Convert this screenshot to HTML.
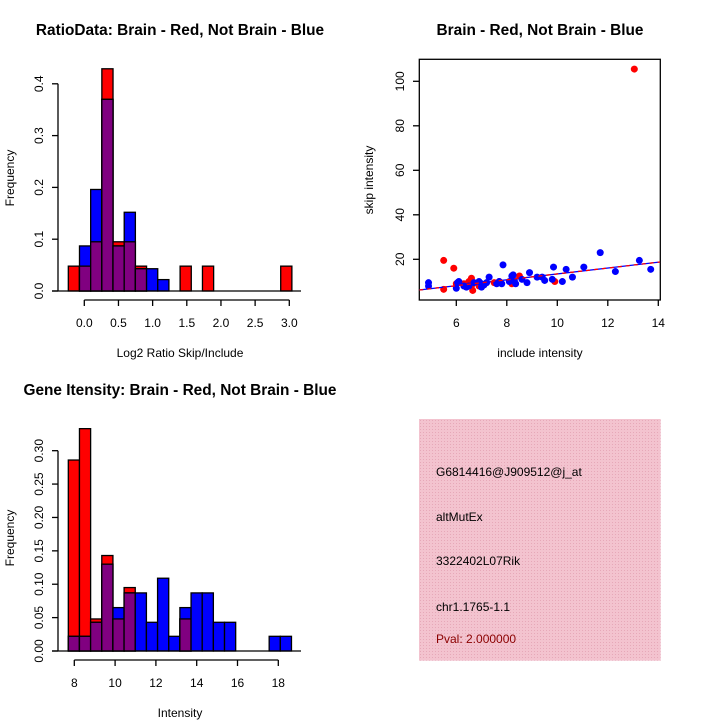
<!DOCTYPE html>
<html><head><meta charset="utf-8"><style>
html,body{margin:0;padding:0;background:#fff;}
svg{display:block;font-family:"Liberation Sans",sans-serif;}
</style></head><body>
<svg id="c" width="720" height="720" viewBox="0 0 720 720">
<rect width="720" height="720" fill="#fff"/>
</svg>
<script>
// ---- Ratio histogram data (20 bins) ----
const ratioRed  = [0.048,0.048,0.095,0.429,0.095,0.095,0.048,0,0,0,0.048,0,0.048,0,0,0,0,0,0,0.048];
const ratioBlue = [0,0.087,0.196,0.37,0.087,0.152,0.043,0.043,0.022,0,0,0,0,0,0,0,0,0,0,0];
const ratioBinStart = -0.234;
const ratioBinWidth = 0.1636;
const ratioXTicks = [0.0,0.5,1.0,1.5,2.0,2.5,3.0];
const ratioXTickLabels = ["0.0","0.5","1.0","1.5","2.0","2.5","3.0"];
const ratioYTicks = [0,0.1,0.2,0.3,0.4];
const ratioYTickLabels = ["0.0","0.1","0.2","0.3","0.4"];
// ---- Intensity histogram data (20 bins) ----
const intRed  = [0.286,0.333,0.048,0.143,0.048,0.095,0,0,0,0,0.048,0,0,0,0,0,0,0,0,0];
const intBlue = [0.022,0.022,0.043,0.13,0.065,0.087,0.087,0.043,0.109,0.022,0.065,0.087,0.087,0.043,0.043,0,0,0,0.022,0.022];
const intBinStart = 7.706;
const intBinWidth = 0.547;
const intXTicks = [8,10,12,14,16,18];
const intXTickLabels = ["8","10","12","14","16","18"];
const intYTicks = [0,0.05,0.1,0.15,0.2,0.25,0.3];
const intYTickLabels = ["0.00","0.05","0.10","0.15","0.20","0.25","0.30"];
// ---- Scatter data ----
const redX = [5.5,5.5,5.9,6.6,6.65,6.5,7.5,8.2,8.5,9.9,13.05,6.3,6.9,7.7,6.6,6.0];
const redY = [19.5,6.5,16,11.5,6,10,9.5,9,12.5,10,105.5,9,8,10,8,9];
const blueX = [4.9,4.9,6.0,6.05,6.1,6.3,6.4,6.5,6.7,6.9,7.0,7.0,7.1,7.2,7.3,7.6,7.7,7.8,7.85,8.1,8.2,8.25,8.3,8.35,8.6,8.8,8.9,9.2,9.4,9.5,9.8,9.85,10.2,10.35,10.6,11.05,11.7,12.3,13.25,13.7];
const blueY = [9.5,8,7,9.5,10,8,7.5,8,9.5,10,7.5,9,8.5,9.5,12,9,10,9,17.5,10,12.5,13,10.5,9,11,9.5,14,12,12,10.5,11,16.5,10,15.5,12,16.5,23,14.5,19.5,15.5];
const fitLineX = [4.53,14.07];
const fitLineY = [6.2,18.8];
const scXTicks = [6,8,10,12,14];
const scXTickLabels = ["6","8","10","12","14"];
const scYTicks = [20,40,60,80,100];
const scYTickLabels = ["20","40","60","80","100"];

const svg = document.getElementById('c');
const NS = 'http://www.w3.org/2000/svg';
function mk(tag, attrs, parent){
  const e = document.createElementNS(NS, tag);
  for (const k in attrs) e.setAttribute(k, attrs[k]);
  (parent||svg).appendChild(e);
  return e;
}
function txt(s, x, y, opts, parent){
  const e = mk('text', Object.assign({x:x, y:y, 'font-size':12, 'text-anchor':'middle', fill:'#000'}, opts||{}), parent);
  e.textContent = s;
  return e;
}

function histogram(name, red, blue, binStart, binW, xScale, yScale, xTicks, xTickLabels, yTicks, yTickLabels, yAxisX, baseY, axisY, xl, xr){
  const g = mk('g', {});
  
  
  for (let i = 0; i < red.length; i++){
    const x0 = xScale(binStart + i*binW), x1 = xScale(binStart + (i+1)*binW);
    const r = red[i], b = blue[i], m = Math.min(r,b);
    if (r > 0){
      const e = mk('rect', {x:x0, y:yScale(r), width:x1-x0, height:yScale(0)-yScale(r), fill:'#ff0000', stroke:'#000', 'stroke-width':1.3}, g);
      
      
    }
    if (b > 0){
      const e = mk('rect', {x:x0, y:yScale(b), width:x1-x0, height:yScale(0)-yScale(b), fill:'#0000ff', stroke:'#000', 'stroke-width':1.3}, g);
      
      
    }
    if (m > 0){
      const e = mk('rect', {x:x0, y:yScale(m), width:x1-x0, height:yScale(0)-yScale(m), fill:'#800080', stroke:'#000', 'stroke-width':1.3}, g);
      
      
    }
  }
  mk('line', {x1:xl, x2:xr, y1:baseY, y2:baseY, stroke:'#000', 'stroke-width':1.3}, g);
  const ya = mk('g', {}, g);
  
  
  mk('line', {x1:yAxisX, x2:yAxisX, y1:yScale(yTicks[0]), y2:yScale(yTicks[yTicks.length-1]), stroke:'#000', 'stroke-width':1.3}, ya);
  yTicks.forEach((v,i)=>{
    const y = yScale(v);
    mk('line', {x1:yAxisX-6, x2:yAxisX, y1:y, y2:y, stroke:'#000', 'stroke-width':1.3}, ya);
    const t = txt(yTickLabels[i], 0, 0, {transform:`translate(${yAxisX-18},${y}) rotate(-90)`, 'dominant-baseline':'middle'}, ya);
    
    
  });
  const xa = mk('g', {}, g);
  
  
  mk('line', {x1:xScale(xTicks[0]), x2:xScale(xTicks[xTicks.length-1]), y1:axisY, y2:axisY, stroke:'#000', 'stroke-width':1.3}, xa);
  xTicks.forEach((v,i)=>{
    const x = xScale(v);
    mk('line', {x1:x, x2:x, y1:axisY, y2:axisY+6, stroke:'#000', 'stroke-width':1.3}, xa);
    const t = txt(xTickLabels[i], x, axisY+27, {}, xa);
    
    
  });
}

const rX = v => 84.3 + v*68.33;
const rY = v => 291 - v*518;
histogram('ratio-histogram', ratioRed, ratioBlue, ratioBinStart, ratioBinWidth, rX, rY, ratioXTicks, ratioXTickLabels, ratioYTicks, ratioYTickLabels, 58, 291, 300, 52, 301);
let t;
t = txt('RatioData: Brain - Red, Not Brain - Blue', 180, 35, {'font-size':15.4, 'font-weight':'bold'});
 
t = txt('Log2 Ratio Skip/Include', 180, 357);
 
t = txt('Frequency', 0, 0, {transform:'translate(14,178) rotate(-90)'});
 

const iX = v => 74.3 + (v-8)*20.4;
const iY = v => 651 - v*667.7;
histogram('intensity-histogram', intRed, intBlue, intBinStart, intBinWidth, iX, iY, intXTicks, intXTickLabels, intYTicks, intYTickLabels, 58, 651, 660, 52, 301);
t = txt('Gene Itensity: Brain - Red, Not Brain - Blue', 180, 395, {'font-size':15.4, 'font-weight':'bold'});
 
t = txt('Intensity', 180, 717);
 
t = txt('Frequency', 0, 0, {transform:'translate(14,538) rotate(-90)'});
 

const sX = v => 456.3 + (v-6)*25.25;
const sY = v => 259.3 - (v-20)*2.225;
const sg = mk('g', {});


mk('rect', {x:419.3, y:59.3, width:241, height:240.7, fill:'none', stroke:'#000', 'stroke-width':1.3}, sg);
const clip = mk('clipPath', {id:'sc'}, sg);
mk('rect', {x:419.3, y:59.3, width:241, height:240.7}, clip);
redX.forEach((x,i)=>{
  const c = mk('circle', {cx:sX(x), cy:sY(redY[i]), r:3.5, fill:'#ff0000'}, sg);
  
  
});
blueX.forEach((x,i)=>{
  const c = mk('circle', {cx:sX(x), cy:sY(blueY[i]), r:3.5, fill:'#0000ff'}, sg);
  
  
});
let ln = mk('line', {x1:sX(fitLineX[0]), y1:sY(fitLineY[0]), x2:sX(fitLineX[1]), y2:sY(fitLineY[1]), stroke:'#0000ff', 'stroke-width':1.3, 'clip-path':'url(#sc)'}, sg);
 
ln = mk('line', {x1:sX(fitLineX[0]), y1:sY(fitLineY[0]), x2:sX(fitLineX[1]), y2:sY(fitLineY[1]), stroke:'#ff0000', 'stroke-width':1.3, 'stroke-dasharray':'4 4', 'clip-path':'url(#sc)'}, sg);
 
scXTicks.forEach((v,i)=>{
  const x = sX(v);
  mk('line', {x1:x, x2:x, y1:300, y2:306, stroke:'#000', 'stroke-width':1.3}, sg);
  const tt = txt(scXTickLabels[i], x, 327, {}, sg);
   
});
scYTicks.forEach((v,i)=>{
  const y = sY(v);
  mk('line', {x1:413, x2:419.3, y1:y, y2:y, stroke:'#000', 'stroke-width':1.3}, sg);
  const tt = txt(scYTickLabels[i], 0, 0, {transform:`translate(401,${y}) rotate(-90)`, 'dominant-baseline':'middle'}, sg);
   
});
t = txt('Brain - Red, Not Brain - Blue', 540, 35, {'font-size':15.4, 'font-weight':'bold'});
 
t = txt('include intensity', 540, 357);
 
t = txt('skip intensity', 0, 0, {transform:'translate(373,180) rotate(-90)'});
 

const ip = mk('g', {});


const defs = mk('defs', {}, ip);
const pat = mk('pattern', {id:'hatch', width:3, height:3, patternUnits:'userSpaceOnUse'}, defs);
mk('rect', {width:3, height:3, fill:'#f3c3cf'}, pat);
mk('rect', {width:1, height:1, fill:'#e6a8b8'}, pat);
mk('rect', {x:419, y:419, width:241.7, height:241.7, fill:'url(#hatch)'}, ip);
const info = [['G6814416@J909512@j_at',476,'#000'],['altMutEx',521,'#000'],['3322402L07Rik',565,'#000'],['chr1.1765-1.1',611,'#000'],['Pval: 2.000000',643,'#8b0000']];
const infoNames = ['probe-id','event-type','gene-name','location','pval'];
info.forEach((r,i)=>{
  const tt = txt(r[0], 436, r[1], {'text-anchor':'start', fill:r[2]}, ip);
  
  
});
</script>
</body></html>
